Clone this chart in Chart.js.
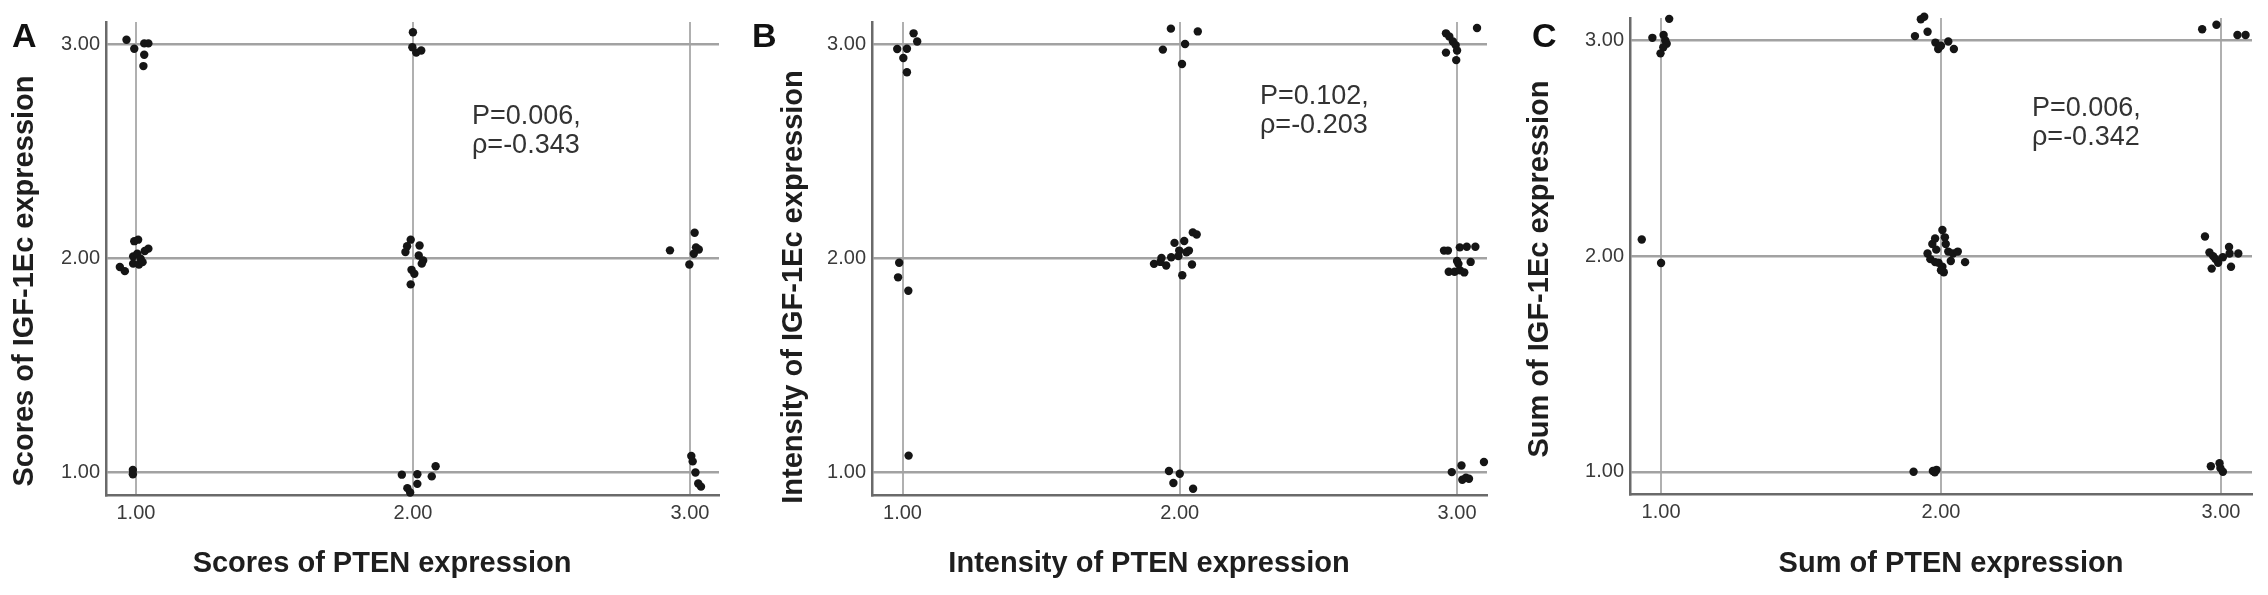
<!DOCTYPE html>
<html>
<head>
<meta charset="utf-8">
<script src="https://cdn.jsdelivr.net/npm/chart.js@4.4.1/dist/chart.umd.min.js"></script>
<style>
  html, body { margin: 0; padding: 0; background: #fff; }
  body { width: 2268px; height: 595px; position: relative; overflow: hidden; }
  canvas { position: absolute; top: 0; display: block; }
</style>
</head>
<body>
<canvas id="chart-a" width="750" height="595" style="left:0px"></canvas>
<canvas id="chart-b" width="755" height="595" style="left:750px"></canvas>
<canvas id="chart-c" width="763" height="595" style="left:1505px"></canvas>
<script>
// tick values (both axes)
const tickValues = [1, 2, 3];

// A: scores (jittered points, grouped by cell)
const scoresX = [
    0.966, 0.994, 1.030, 1.045, 1.030, 1.027,
    2.000, 1.998, 2.012, 2.030,
    0.942, 0.960, 0.994, 1.008, 0.990, 1.005, 1.017, 0.990, 1.011, 1.024, 1.045, 1.032,
    1.992, 1.979, 1.973, 2.024, 2.021, 2.037, 2.032, 1.995, 2.005, 1.992,
    2.928, 3.017, 3.022, 3.032, 3.014, 2.998,
    0.989, 0.989,
    1.960, 1.980, 1.990, 2.016, 2.016, 2.068, 2.082,
    3.005, 3.010, 3.020, 3.030, 3.040
];
const scoresY = [
    3.020, 2.978, 3.003, 3.003, 2.950, 2.897,
    3.055, 2.985, 2.960, 2.970,
    1.958, 1.939, 2.079, 2.086, 2.008, 2.020, 1.997, 1.974, 1.970, 1.981, 2.044, 2.033,
    2.086, 2.055, 2.028, 2.059, 2.012, 1.989, 1.974, 1.945, 1.927, 1.877,
    2.036, 2.118, 2.050, 2.040, 2.020, 1.970,
    1.010, 0.990,
    0.988, 0.925, 0.905, 0.990, 0.945, 0.980, 1.027,
    1.075, 1.050, 0.998, 0.947, 0.932
];

// B: intensity
const intensityX = [
    0.981, 1.016, 1.003, 1.016, 1.040, 1.053,
    1.968, 1.939, 2.019, 2.008, 2.065,
    2.960, 2.972, 2.985, 2.995, 2.960, 2.997, 3.000, 3.072,
    0.988, 0.984, 1.021,
    1.907, 1.934, 1.951, 1.969, 1.981, 1.998, 2.016, 2.024, 2.044, 2.009, 2.047, 2.061, 1.995, 2.033, 1.930,
    2.953, 2.967, 3.010, 3.035, 3.066, 2.970, 2.991, 3.010, 3.026, 3.005, 3.049, 3.000,
    1.022,
    1.961, 1.977, 2.000, 2.048,
    2.981, 3.016, 3.019, 3.032, 3.043, 3.097
];
const intensityY = [
    2.977, 2.978, 2.935, 2.868, 3.050, 3.012,
    3.072, 2.974, 3.000, 2.907, 3.059,
    3.050, 3.035, 3.012, 2.995, 2.960, 2.925, 2.970, 3.075,
    1.978, 1.910, 1.847,
    1.973, 2.000, 1.965, 2.004, 2.071, 2.035, 2.080, 2.027, 1.970, 1.920, 2.120, 2.110, 2.009, 2.035, 1.982,
    2.035, 2.035, 2.050, 2.053, 2.053, 1.936, 1.936, 1.943, 1.933, 1.973, 1.982, 1.986,
    1.077,
    1.005, 0.949, 0.992, 0.922,
    1.000, 1.031, 0.964, 0.974, 0.969, 1.047
];

// C: sum
const sumX = [
    0.969, 1.009, 1.029, 1.015, 1.020, 1.008, 0.998,
    1.907, 1.928, 1.940, 1.952, 1.980, 1.990, 2.000, 2.026, 2.046,
    2.933, 2.984, 3.059, 3.088,
    0.931, 1.000,
    1.952, 1.962, 1.969, 1.979, 1.991, 2.005, 2.014, 2.017, 2.026, 2.005, 2.010, 2.000, 2.043, 2.060, 2.086, 1.979, 2.035, 1.983,
    2.943, 2.959, 2.972, 2.981, 2.967, 2.990, 3.029, 3.031, 3.036, 3.062, 3.007,
    1.902, 1.971, 1.984, 1.978,
    2.964, 2.995, 3.007, 2.998
];
const sumY = [
    3.012, 3.025, 3.100, 3.000, 2.985, 2.968, 2.940,
    3.020, 3.098, 3.110, 3.040, 2.990, 2.960, 2.975, 2.995, 2.960,
    3.052, 3.073, 3.025, 3.025,
    2.077, 1.968,
    2.012, 1.986, 2.056, 2.082, 1.969, 2.121, 2.087, 2.056, 2.021, 1.951, 1.925, 1.934, 2.012, 2.021, 1.972, 1.972, 1.977, 2.030,
    2.091, 2.017, 2.000, 1.986, 1.942, 1.969, 2.042, 2.012, 1.951, 2.012, 1.995,
    1.000, 1.004, 1.009, 0.998,
    1.026, 1.040, 1.000, 1.017
];

const FONT = '"Liberation Sans", Arial, sans-serif';

// 標題、字母與 P/ρ 註解
const panelText = {
    id: 'panelText',
    afterDraw(chart, args, o) {
        const ctx = chart.ctx;
        ctx.save();
        ctx.fillStyle = '#111';
        ctx.font = 'bold 34px ' + FONT;
        ctx.textAlign = 'left';
        ctx.textBaseline = 'alphabetic';
        ctx.fillText(o.letter, o.letterX, o.letterY);

        ctx.fillStyle = '#1e1e1e';
        ctx.font = 'bold 29px ' + FONT;
        ctx.textAlign = 'center';
        ctx.textBaseline = 'middle';
        ctx.fillText(o.xTitle, o.xTitleX, o.xTitleY);
        ctx.translate(o.yTitleX, o.yTitleY);
        ctx.rotate(-Math.PI / 2);
        ctx.fillText(o.yTitle, 0, 0);
        ctx.restore();

        ctx.save();
        ctx.fillStyle = '#333';
        ctx.font = '27px ' + FONT;
        ctx.textAlign = 'left';
        ctx.textBaseline = 'alphabetic';
        o.note.forEach((line, i) => ctx.fillText(line, o.noteX, o.noteY + i * 28.5));
        ctx.restore();
    }
};

function makePanel(cfg) {
    const canvas = document.getElementById(cfg.id);
    const cl = cfg.canvasLeft;
    const a = cfg.area;
    const H = canvas.height;
    const points = cfg.xs.map((x, i) => ({ x: x, y: cfg.ys[i] }));

    const tickOpts = {
        padding: 6,
        color: '#3a3a3a',
        font: { family: FONT, size: 20 },
        autoSkip: false,
        maxRotation: 0,
        callback: v => Number(v).toFixed(2)
    };

    new Chart(canvas, {
        type: 'scatter',
        data: {
            datasets: [{
                data: points,
                backgroundColor: '#151515',
                borderWidth: 0,
                pointRadius: 4.2,
                clip: false
            }]
        },
        options: {
            responsive: false,
            animation: false,
            layout: {
                padding: { left: 0, top: a.top, right: canvas.width - (a.right - cl), bottom: 0 }
            },
            plugins: {
                legend: { display: false },
                tooltip: { enabled: false },
                panelText: {
                    letter: cfg.letter,
                    letterX: cfg.letterPos[0] - cl,
                    letterY: cfg.letterPos[1],
                    xTitle: cfg.xTitle,
                    xTitleX: cfg.xTitlePos[0] - cl,
                    xTitleY: cfg.xTitlePos[1],
                    yTitle: cfg.yTitle,
                    yTitleX: cfg.yTitlePos[0] - cl,
                    yTitleY: cfg.yTitlePos[1],
                    note: cfg.note,
                    noteX: cfg.notePos[0] - cl,
                    noteY: cfg.notePos[1]
                }
            },
            scales: {
                x: {
                    type: 'linear',
                    min: cfg.xRange[0],
                    max: cfg.xRange[1],
                    afterBuildTicks: s => { s.ticks = tickValues.map(v => ({ value: v })); },
                    afterFit: s => { s.height = H - a.bottom; },
                    grid: { color: '#b0b0b0', lineWidth: 2, drawTicks: false },
                    border: { color: '#6a6a6a', width: 2.5 },
                    ticks: tickOpts
                },
                y: {
                    type: 'linear',
                    min: cfg.yRange[0],
                    max: cfg.yRange[1],
                    afterBuildTicks: s => { s.ticks = tickValues.map(v => ({ value: v })); },
                    afterFit: s => { s.width = a.left - cl; },
                    grid: { color: '#a2a2a2', lineWidth: 2.5, drawTicks: false },
                    border: { color: '#6a6a6a', width: 2.5 },
                    ticks: tickOpts
                }
            }
        },
        plugins: [panelText]
    });
}

makePanel({
    id: 'chart-a', canvasLeft: 0,
    area: { left: 106, right: 719, top: 22, bottom: 495 },
    xRange: [0.892, 3.105], yRange: [0.893, 3.103],
    xs: scoresX, ys: scoresY,
    letter: 'A', letterPos: [12, 47],
    xTitle: 'Scores of PTEN expression', xTitlePos: [382, 564],
    yTitle: 'Scores of IGF-1Ec expression', yTitlePos: [25, 281],
    note: ['P=0.006,', 'ρ=-0.343'], notePos: [472, 124]
});

makePanel({
    id: 'chart-b', canvasLeft: 750,
    area: { left: 872, right: 1487, top: 22, bottom: 495 },
    xRange: [0.890, 3.108], yRange: [0.893, 3.103],
    xs: intensityX, ys: intensityY,
    letter: 'B', letterPos: [752, 47],
    xTitle: 'Intensity of PTEN expression', xTitlePos: [1149, 564],
    yTitle: 'Intensity of IGF-1Ec expression', yTitlePos: [794, 287],
    note: ['P=0.102,', 'ρ=-0.203'], notePos: [1260, 104]
});

makePanel({
    id: 'chart-c', canvasLeft: 1505,
    area: { left: 1630, right: 2252, top: 16, bottom: 494 },
    xRange: [0.889, 3.111], yRange: [0.897, 3.104],
    xs: sumX, ys: sumY,
    letter: 'C', letterPos: [1532, 47],
    xTitle: 'Sum of PTEN expression', xTitlePos: [1951, 564],
    yTitle: 'Sum of IGF-1Ec expression', yTitlePos: [1540, 269],
    note: ['P=0.006,', 'ρ=-0.342'], notePos: [2032, 116]
});
</script>
</body>
</html>
